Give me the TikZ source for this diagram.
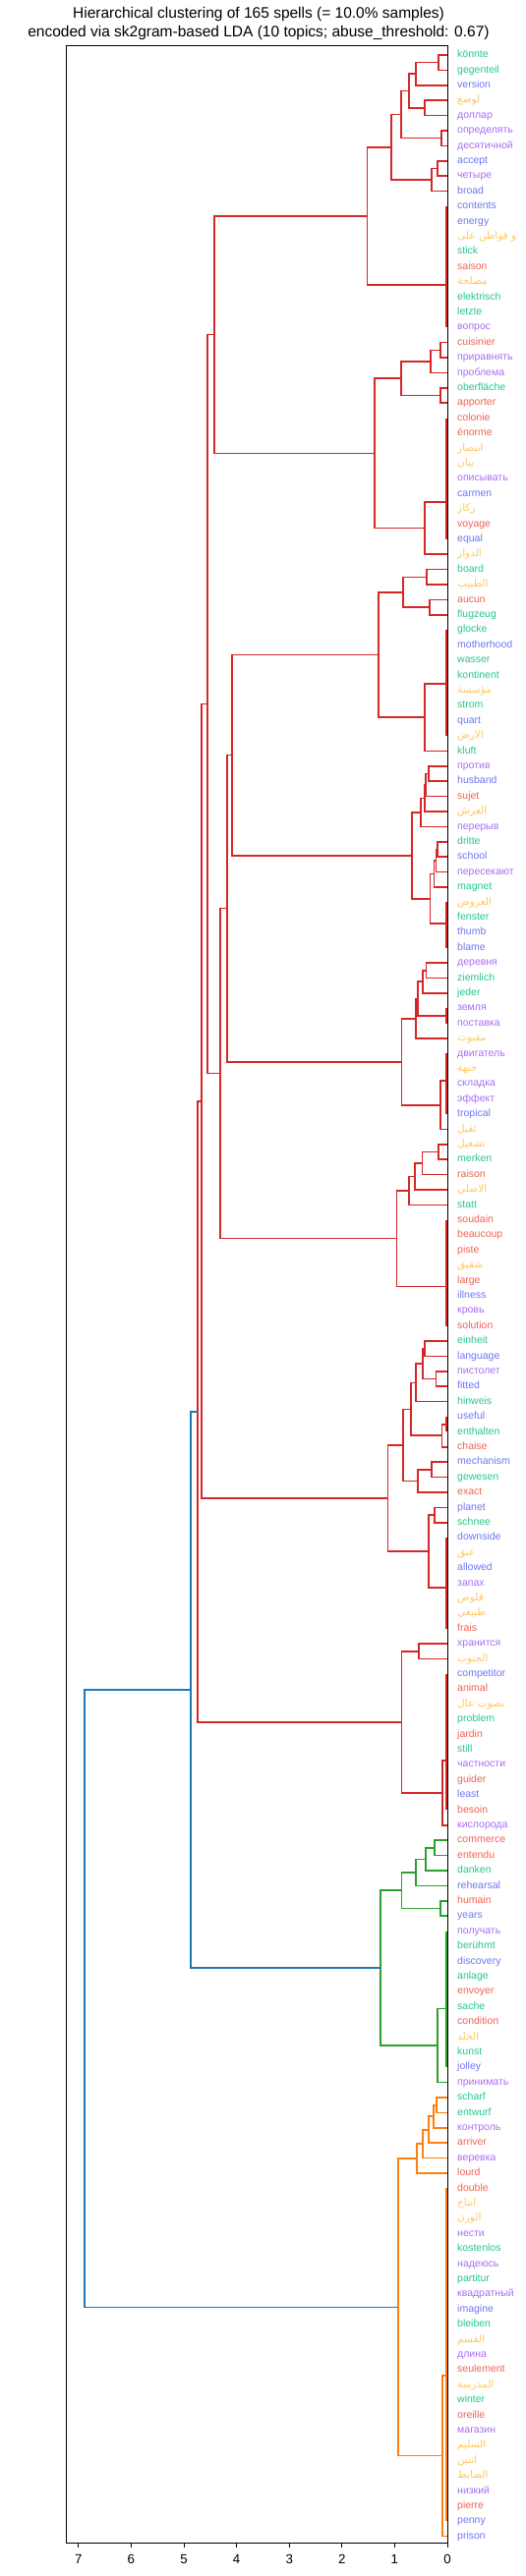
\documentclass[tikz,border=0pt]{standalone}
\usepackage{fontspec}
\setmainfont{Liberation Sans}
\newfontfamily\arabicfont[Script=Arabic]{DejaVu Sans}
\TeXXeTstate=1
\usetikzlibrary{calc}
\newcommand\ar[1]{{\arabicfont\beginR #1\endR}}
\definecolor{cG}{RGB}{38,200,140}
\definecolor{cE}{RGB}{110,120,245}
\definecolor{cF}{RGB}{240,100,85}
\definecolor{cR}{RGB}{170,110,245}
\definecolor{cA}{RGB}{255,200,95}
\definecolor{lr}{HTML}{D62728}
\definecolor{lg}{HTML}{2CA02C}
\definecolor{lo}{HTML}{FF7F0E}
\definecolor{lb}{HTML}{1F77B4}
\tikzset{
  link/.style={line width=1.6pt},
  lab/.style={font=\fontsize{10.5}{12}\selectfont, inner sep=0pt, anchor=west, text height=7.6pt, text depth=2.2pt},
  ticklab/.style={font=\fontsize{13.3}{15}\selectfont, inner sep=0pt},
  ttl/.style={font=\fontsize{15.5}{18}\selectfont, inner sep=0pt}
}
\newcommand\mrg[5][lr]{\path let \p1=($(#4)!.5!(#5)$) in (#3pt,\y1) coordinate (#2);\draw[link,#1] (#4) -| (#2) |- (#5);}
\newcommand\zc[5][lr]{\coordinate (#2) at (455,#5);\draw[link,#1] ([xshift=-0.8pt]l#3) -- ([xshift=-0.8pt]l#4);}
\begin{document}
\begin{tikzpicture}[x=1pt,y=-1pt]
\useasboundingbox (0,0) rectangle (535,2622);
\fill[white] (0,0) rectangle (535,2622);
\node[ttl] (title1) at (263,14) {Hierarchical clustering of 165 spells (= 10.0\% samples)};
\node[ttl] (title2) at (263,33) {encoded via sk2gram-based LDA (10 topics; abuse\_threshold: 0.67)};
\foreach \t/\c [count=\i] in {
könnte/G, gegenteil/G, version/E, \ar{لوضع}/A, доллар/R, определять/R, десятичной/R, accept/E, четыре/R, broad/E,
contents/E, energy/E, \ar{و قواطن على}/A, stick/G, saison/F, \ar{مصلحة}/A, elektrisch/G, letzte/G, вопрос/R, cuisinier/F,
приравнять/R, проблема/R, oberfläche/G, apporter/F, colonie/F, énorme/F, \ar{انتصار}/A, \ar{بيان}/A, описывать/R, carmen/E,
\ar{ركاز}/A, voyage/F, equal/E, \ar{الدوار}/A, board/G, \ar{الطبيب}/A, aucun/F, flugzeug/G, glocke/G, motherhood/E,
wasser/G, kontinent/G, \ar{مؤسسة}/A, strom/G, quart/E, \ar{الارض}/A, kluft/G, против/R, husband/E, sujet/F,
\ar{القرش}/A, перерыв/R, dritte/G, school/E, пересекают/R, magnet/G, \ar{العروض}/A, fenster/G, thumb/E, blame/E,
деревня/R, ziemlich/G, jeder/G, земля/R, поставка/R, \ar{مقبوت}/A, двигатель/R, \ar{جبهة}/A, складка/R, эффект/R,
tropical/E, \ar{ثقيل}/A, \ar{تشغيل}/A, merken/G, raison/F, \ar{الاصلي}/A, statt/G, soudain/F, beaucoup/F, piste/F,
\ar{شقيق}/A, large/F, illness/E, кровь/R, solution/F, einheit/G, language/E, пистолет/R, fitted/E, hinweis/G,
useful/E, enthalten/G, chaise/F, mechanism/E, gewesen/G, exact/F, planet/E, schnee/G, downside/E, \ar{عنق}/A,
allowed/E, запах/R, \ar{قلوص}/A, \ar{طبيعي}/A, frais/F, хранится/R, \ar{الجنوب}/A, competitor/E, animal/F, \ar{بصوت عال}/A,
problem/G, jardin/F, still/G, частности/R, guider/F, least/E, besoin/F, кислорода/R, commerce/F, entendu/F,
danken/G, rehearsal/E, humain/F, years/E, получать/R, berühmt/G, discovery/E, anlage/G, envoyer/F, sache/G,
condition/F, \ar{الجلد}/A, kunst/G, jolley/E, принимать/R, scharf/G, entwurf/G, контроль/R, arriver/F, веревка/R,
lourd/F, double/F, \ar{انتاج}/A, \ar{الوزن}/A, нести/R, kostenlos/G, надеюсь/R, partitur/G, квадратный/R, imagine/E,
bleiben/G, \ar{القسم}/A, длина/R, seulement/F, \ar{المدرسة}/A, winter/G, oreille/F, магазин/R, \ar{السليم}/A, \ar{اثنين}/A,
\ar{الضابط}/A, низкий/R, pierre/F, penny/E, prison/E}{
  \coordinate (l\i) at (455,{56+(\i-1)*15.4});
  \node[lab,text=c\c] (t\i) at (465,{56+(\i-1)*15.4}) {\t};
}
% red cluster
\mrg{m1}{446}{l1}{l2}
\mrg{m2}{422.7}{m1}{l3}
\mrg{m3}{431.7}{l4}{l5}
\mrg{m4}{415.7}{m2}{m3}
\mrg{m5}{449}{l6}{l7}
\mrg{m6}{407.7}{m4}{m5}
\mrg{m7}{445}{l8}{l9}
\mrg{m8}{439}{m7}{l10}
\mrg{m9}{397.7}{m6}{m8}
\zc{z1}{11}{19}{290}
\mrg{m10}{373.5}{m9}{z1}
\mrg{m11}{447.7}{l20}{l21}
\mrg{m12}{437.7}{m11}{l22}
\mrg{m13}{447.7}{l23}{l24}
\mrg{m14}{407.7}{m12}{m13}
\zc{z2}{25}{33}{510.7}
\mrg{m15}{431.7}{z2}{l34}
\mrg{m16}{380.7}{m14}{m15}
\mrg{m17}{434}{l35}{l36}
\mrg{m18}{436.7}{l37}{l38}
\mrg{m19}{410}{m17}{m18}
\zc{z3}{39}{46}{696}
\mrg{m20}{431.7}{z3}{l47}
\mrg{m21}{384.7}{m19}{m20}
\mrg{m22}{435.7}{l48}{l49}
\mrg{m23}{433}{m22}{l50}
\mrg{m24}{432}{m23}{l51}
\mrg{m25}{427.7}{m24}{l52}
\mrg{m26}{445}{l53}{l54}
\mrg{m27}{443.3}{m26}{l55}
\mrg{m28}{441.5}{m27}{l56}
\zc{z4}{57}{60}{940}
\mrg{m29}{437.3}{m28}{z4}
\mrg{m30}{419}{m25}{m29}
\mrg{m31}{433.3}{l61}{l62}
\mrg{m32}{430}{m31}{l63}
\zc{z5}{64}{65}{1033.7}
\mrg{m33}{425}{m32}{z5}
\mrg{m34}{422.7}{m33}{l66}
\zc{z6}{67}{71}{1100}
\mrg{m35}{447.7}{z6}{l72}
\mrg{m36}{408.3}{m34}{m35}
\mrg{m37}{445.7}{l73}{l74}
\mrg{m38}{429.3}{m37}{l75}
\mrg{m39}{421.7}{m38}{l76}
\mrg{m40}{416}{m39}{l77}
\zc{z7}{78}{85}{1309.3}
\mrg{m41}{403.3}{m40}{z7}
\mrg{m42}{431.7}{l86}{l87}
\mrg{m43}{443.3}{l88}{l89}
\mrg{m44}{430}{m42}{m43}
\mrg{m45}{422.7}{m44}{l90}
\zc{z8}{91}{92}{1449.7}
\mrg{m46}{449.3}{z8}{l93}
\mrg{m47}{417.7}{m45}{m46}
\mrg{m48}{439}{l94}{l95}
\mrg{m49}{425}{m48}{l96}
\mrg{m50}{410}{m47}{m49}
\mrg{m51}{441.7}{l97}{l98}
\zc{z9}{99}{105}{1615.7}
\mrg{m52}{435.7}{m51}{z9}
\mrg{m53}{394.5}{m50}{m52}
\mrg{m54}{425.7}{l106}{l107}
\zc{z10}{108}{117}{1791.7}
\mrg{m55}{450}{z10}{l118}
\mrg{m56}{408.3}{m54}{m55}
% green cluster
\mrg[lg]{m57}{441.7}{l119}{l120}
\mrg[lg]{m58}{432.7}{m57}{l121}
\mrg[lg]{m59}{422.7}{m58}{l122}
\mrg[lg]{m60}{447.7}{l123}{l124}
\mrg[lg]{m61}{408.3}{m59}{m60}
\zc[lg]{z11}{125}{134}{2044.3}
\mrg[lg]{m62}{445}{z11}{l135}
\mrg[lg]{m63}{386.7}{m61}{m62}
% orange cluster
\mrg[lo]{m64}{444}{l136}{l137}
\mrg[lo]{m65}{440.7}{m64}{l138}
\mrg[lo]{m66}{435.7}{m65}{l139}
\mrg[lo]{m67}{430}{m66}{l140}
\mrg[lo]{m68}{424}{m67}{l141}
\zc[lo]{z12}{142}{164}{2417.7}
\mrg[lo]{m69}{450}{z12}{l165}
\mrg[lo]{m70}{405}{m68}{m69}
% upper levels
\mrg{s1}{217.7}{m10}{m16}
\mrg{v1}{236}{m21}{m30}
\mrg{u1}{231}{v1}{m36}
\mrg{t1}{223.7}{u1}{m41}
\mrg{q1}{211}{s1}{t1}
\mrg{p1}{204.7}{q1}{m53}
\mrg{rt}{200.7}{p1}{m56}
\mrg[lb]{b1}{193.7}{rt}{m63}
\mrg[lb]{b2}{86}{b1}{m70}
% frame and axis
\draw[line width=1pt] (67,47) rectangle (455,2588);
\foreach \k in {0,...,7}{
  \draw[line width=1pt] ({455-53.6*\k},2588) -- ({455-53.6*\k},2593);
  \node[ticklab] (tk\k) at ({455-53.6*\k},2605) {\k};
}
\end{tikzpicture}
\end{document}
